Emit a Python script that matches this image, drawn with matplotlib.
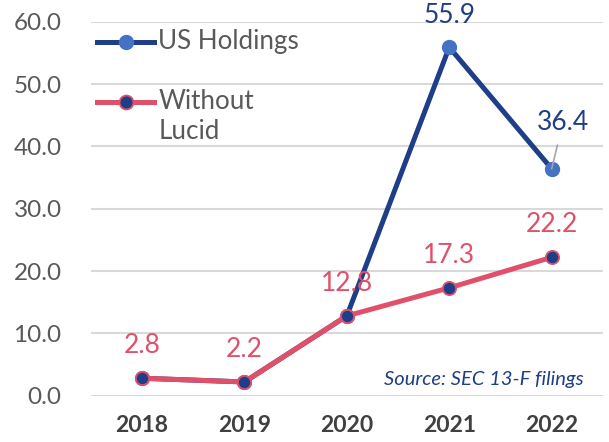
import matplotlib
matplotlib.use("Agg")
import matplotlib.pyplot as plt
from matplotlib.lines import Line2D

years = ["2018", "2019", "2020", "2021", "2022"]
us_holdings = [2.8, 2.2, 12.8, 55.9, 36.4]
without_lucid = [2.8, 2.2, 12.8, 17.3, 22.2]
yticks = [0, 10, 20, 30, 40, 50, 60]

BLUE = "#1F3E88"
BLUE_MK = "#4472C4"
RED = "#E0506A"
GRAY = "#595959"

plt.rcParams['font.family'] = ['Lato', 'DejaVu Sans']

fig = plt.figure(figsize=(6.09, 4.42), dpi=100)
ax = fig.add_axes([0.149, 0.1048, 0.841, 0.8461])
x = list(range(len(years)))

ax.plot(x, us_holdings, color=BLUE, lw=3.6, marker='o', ms=10,
        markerfacecolor=BLUE_MK, markeredgecolor=BLUE_MK, zorder=3, solid_capstyle='round')
ax.plot(x, without_lucid, color=RED, lw=3.6, marker='o', ms=9.5,
        markerfacecolor=BLUE, markeredgecolor=RED, markeredgewidth=1.3, zorder=4, solid_capstyle='round')

ax.set_xlim(-0.5, len(years) - 0.5)
ax.set_ylim(0, 60)
ax.set_yticks(yticks)
ax.set_yticklabels([f"{v:.1f}" for v in yticks], fontsize=17.5, color=GRAY)
ax.set_xticks(x)
ax.set_xticklabels(years, fontsize=16.5, fontweight='bold', color="#404040")
ax.tick_params(axis='both', length=0)
ax.tick_params(axis='y', pad=21)
ax.tick_params(axis='x', pad=14)
for s in ax.spines.values():
    s.set_visible(False)
ax.grid(axis='y', color="#D9D9D9", lw=1.5, zorder=0)
ax.set_axisbelow(True)

LBL = 19
# data labels
for i, v in enumerate(without_lucid):
    ax.annotate(f"{v:.1f}", (i, v), xytext=(0, 23.5), textcoords='offset points',
                ha='center', va='center', fontsize=LBL, color=RED, zorder=6, annotation_clip=False)
ax.annotate(f"{us_holdings[3]:.1f}", (3, us_holdings[3]), xytext=(0, 23), textcoords='offset points',
            ha='center', va='center', fontsize=LBL, color=BLUE, zorder=6, annotation_clip=False)
ax.annotate(f"{us_holdings[4]:.1f}", (4, us_holdings[4]), xytext=(8, 33), textcoords='offset points',
            ha='center', va='center', fontsize=LBL, color=BLUE, zorder=6, annotation_clip=False,
            arrowprops=dict(arrowstyle='-', color='#A6A6A6', lw=1.2, shrinkA=5, shrinkB=0))

# legend (manual)
def legend_entry(y, color, mfc, mec, mew):
    ax.add_line(Line2D([0.013, 0.124], [y, y], transform=ax.transAxes, color=color, lw=3.6,
                       clip_on=False, zorder=5))
    ax.add_line(Line2D([0.0685], [y], transform=ax.transAxes, marker='o', ms=10,
                       markerfacecolor=mfc, markeredgecolor=mec, markeredgewidth=mew,
                       clip_on=False, zorder=6))

LEG = 18.7
legend_entry(0.9465, BLUE, BLUE_MK, BLUE_MK, 1.0)
legend_entry(0.786, RED, BLUE, RED, 1.3)
ax.text(0.132, 0.9465, "US Holdings", transform=ax.transAxes, fontsize=LEG, color=GRAY,
        va='center', ha='left')
ax.text(0.132, 0.786, "Without", transform=ax.transAxes, fontsize=LEG, color=GRAY,
        va='center', ha='left')
ax.text(0.132, 0.706, "Lucid", transform=ax.transAxes, fontsize=LEG, color=GRAY,
        va='center', ha='left')

ax.text(0.962, 0.043, "Source: SEC 13-F filings", transform=ax.transAxes, fontsize=14.5,
        color=BLUE, style='italic', ha='right', va='center')

fig.savefig("out.png", dpi=100)
